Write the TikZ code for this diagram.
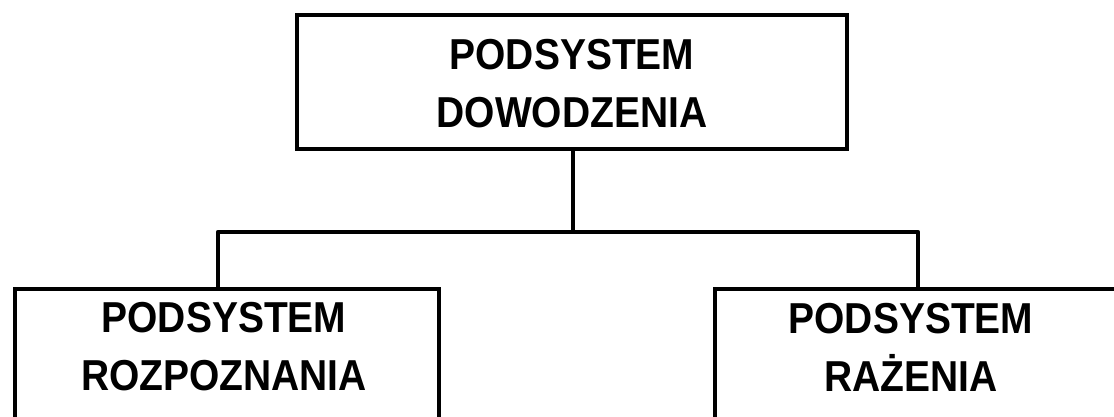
\documentclass[tikz,border=0pt]{standalone}
\usepackage{fontspec}
\setmainfont{Liberation Sans}[FakeStretch=0.9]
\begin{document}
\begin{tikzpicture}[x=1pt,y=-1pt,
  box/.style={draw=black, line width=4.2pt, fill=none, rectangle, inner sep=0pt},
  lbl/.style={align=center, inner sep=0pt, font=\bfseries\fontsize{43.3}{58}\selectfont},
  conn/.style={line width=4.2pt, line join=round}]
\clip (0,0) rectangle (1114,417);
\fill[white] (0,0) rectangle (1114,417);
% boxes
\node[box, minimum width=550, minimum height=134] (dow) at (572,82) {};
\node[box, minimum width=424.5, minimum height=200, anchor=north west] (roz) at (12.5,287) {};
\node[box, minimum width=424.5, minimum height=200, anchor=north west] (raz) at (713,287) {};
% labels
\node[lbl] (dowt) at (572,83.5) {PODSYSTEM\\DOWODZENIA};
\node[lbl] (rozt) at (224,347) {PODSYSTEM\\ROZPOZNANIA};
\node[lbl] (razt) at (911,347) {PODSYSTEM\\RAŻENIA};
% connectors
\coordinate (j) at (573,232);
\coordinate (jl) at (218,232);
\coordinate (jr) at (918,232);
\draw[conn] (dow.south -| j) -- (j);
\draw[conn] (jl |- roz.north) -- (jl) -- (jr) -- (jr |- raz.north);
\end{tikzpicture}
\end{document}
